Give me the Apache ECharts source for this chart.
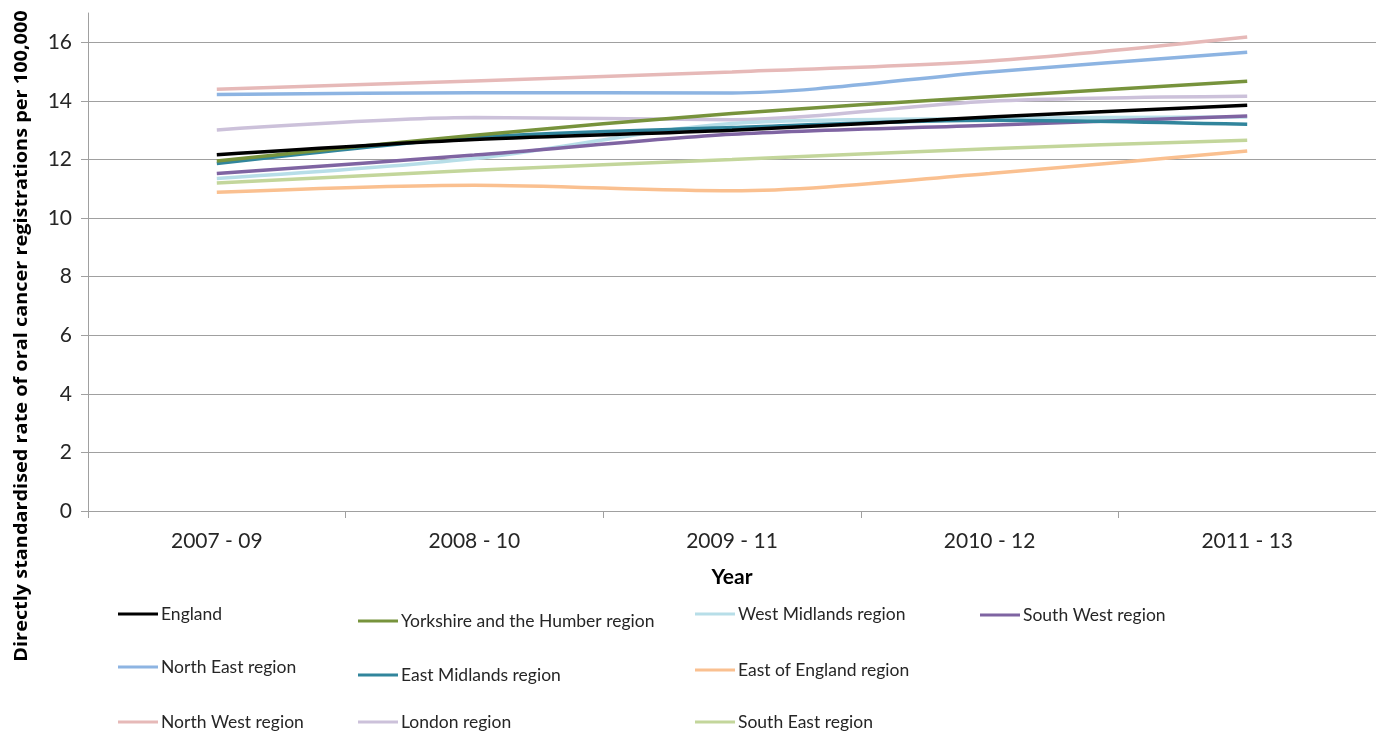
<!DOCTYPE html>
<html>
<head>
<meta charset="utf-8">
<script src="https://cdn.jsdelivr.net/npm/echarts@6/dist/echarts.min.js"></script>
<style>
html,body{margin:0;padding:0;background:#fff;}
#chart{width:1376px;height:731px;}
</style>
</head>
<body>
<div id="chart"></div>
<script>
var categories = ['2007 - 09', '2008 - 10', '2009 - 11', '2010 - 12', '2011 - 13'];
var yTicks = [0, 2, 4, 6, 8, 10, 12, 14, 16];

var england       = [12.16, 12.68, 13.00, 13.45, 13.85];
var northEast     = [14.22, 14.28, 14.27, 14.99, 15.66];
var northWest     = [14.40, 14.68, 14.99, 15.36, 16.18];
var yorkshire     = [11.95, 12.83, 13.57, 14.14, 14.67];
var eastMidlands  = [11.86, 12.75, 13.09, 13.34, 13.20];
var london        = [13.01, 13.43, 13.36, 13.99, 14.16];
var westMidlands  = [11.35, 12.03, 13.23, 13.40, 13.45];
var eastOfEngland = [10.88, 11.12, 10.93, 11.52, 12.29];
var southEast     = [11.20, 11.63, 12.00, 12.37, 12.66];
var southWest     = [11.52, 12.15, 12.86, 13.17, 13.48];

var seriesDefs = [
  {name: 'North West region', data: northWest, color: '#E6B9B8'},
  {name: 'North East region', data: northEast, color: '#8DB4E2'},
  {name: 'London region', data: london, color: '#CCC1DA'},
  {name: 'South East region', data: southEast, color: '#C3D69B'},
  {name: 'East of England region', data: eastOfEngland, color: '#FAC090'},
  {name: 'West Midlands region', data: westMidlands, color: '#B7DEE8'},
  {name: 'South West region', data: southWest, color: '#7F64A2'},
  {name: 'East Midlands region', data: eastMidlands, color: '#31859C'},
  {name: 'Yorkshire and the Humber region', data: yorkshire, color: '#77933C'},
  {name: 'England', data: england, color: '#000000'}
];

var legendPos = [
  {name: 'England', left: 118, cy: 613},
  {name: 'Yorkshire and the Humber region', left: 358, cy: 620},
  {name: 'West Midlands region', left: 695, cy: 613},
  {name: 'South West region', left: 980, cy: 614},
  {name: 'North East region', left: 118, cy: 666},
  {name: 'East Midlands region', left: 358, cy: 674},
  {name: 'East of England region', left: 695, cy: 669},
  {name: 'North West region', left: 118, cy: 721},
  {name: 'London region', left: 358, cy: 721},
  {name: 'South East region', left: 695, cy: 721}
];

var FONT = 'Lato, "Open Sans", sans-serif';

var chart = echarts.init(document.getElementById('chart'), null, {renderer: 'canvas'});

var option = {
  animation: false,
  backgroundColor: '#ffffff',
  grid: {left: 88, top: 13, width: 1298, height: 498, containLabel: false},
  legend: legendPos.map(function (p) {
    return {
      data: [p.name],
      left: p.left,
      top: p.cy - 8,
      padding: 0,
      itemWidth: 40,
      itemHeight: 3,
      icon: 'rect',
      selectedMode: false,
      textStyle: {fontFamily: FONT, fontSize: 17.5, color: '#262626', padding: [0, 0, 0, -2]}
    };
  }),
  xAxis: {
    type: 'category',
    data: categories,
    boundaryGap: true,
    name: 'Year',
    nameLocation: 'middle',
    nameGap: 56,
    nameTextStyle: {fontFamily: FONT, fontSize: 21, fontWeight: 'bold', color: '#000'},
    axisLine: {lineStyle: {color: '#A0A0A0', width: 1}},
    axisTick: {show: true, length: 7, alignWithLabel: false, lineStyle: {color: '#A0A0A0'}},
    axisLabel: {fontFamily: FONT, fontSize: 21, color: '#262626', margin: 20},
    splitLine: {show: false}
  },
  yAxis: {
    type: 'value',
    min: 0,
    max: 17,
    interval: 2,
    axisLine: {show: true, lineStyle: {color: '#A0A0A0', width: 1}},
    axisTick: {show: true, length: 7, inside: false, customValues: yTicks, lineStyle: {color: '#A0A0A0'}},
    axisLabel: {fontFamily: FONT, fontSize: 21, color: '#262626', margin: 16, customValues: yTicks},
    splitLine: {show: true, lineStyle: {color: '#A0A0A0', width: 1}}
  },
  graphic: [{
    type: 'text',
    x: 22,
    y: 336,
    rotation: Math.PI / 2,
    scaleX: 1.17,
    style: {
      text: 'Directly standardised rate of oral cancer registrations per 100,000',
      font: 'bold 17px "Open Sans", sans-serif',
      fill: '#000',
      textAlign: 'center',
      textVerticalAlign: 'middle'
    }
  }],
  series: seriesDefs.map(function (s) {
    return {
      name: s.name,
      type: 'line',
      data: s.data,
      smooth: 0.3,
      symbol: 'none',
      showSymbol: false,
      color: s.color,
      lineStyle: {color: s.color, width: 3.5},
      itemStyle: {color: s.color}
    };
  })
};
chart.setOption(option);
</script>
</body>
</html>
